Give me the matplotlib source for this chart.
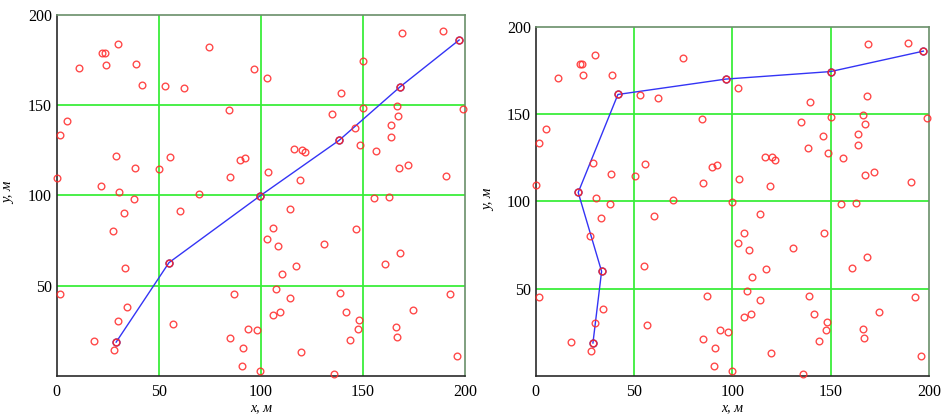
import matplotlib
matplotlib.use("Agg")
import matplotlib.pyplot as plt

# random scattered points (same set on both panels)
pts_x = [0.2, 1.5, 5.2, 1.5, 11.1, 18.1, 21.6, 22.4, 23.5, 24.2,
         30.2, 29.2, 30.7, 27.8, 33.0, 33.5, 34.4, 29.9, 27.9, 29.1,
         38.4, 37.9, 38.9, 41.8, 52.9, 62.4, 50.3, 55.5, 60.4, 69.7,
         56.8, 74.8, 84.6, 84.9, 87.0, 84.9, 91.3, 90.8, 93.9, 98.0,
         89.8, 92.1, 96.7, 103.0, 103.5, 99.6, 105.8, 103.0, 108.2, 110.2,
         107.4, 105.8, 109.6, 114.1, 114.1, 117.1, 116.4, 120.0, 121.8, 119.3,
         119.7, 99.8, 136.0, 130.9, 135.0, 139.4, 138.3, 146.0, 148.4, 138.8,
         141.7, 148.2, 147.4, 143.8, 146.6, 149.9, 150.0, 156.2, 155.4, 162.9,
         160.8, 163.9, 163.9, 166.5, 167.3, 168.2, 169.0, 167.5, 171.9, 168.2,
         166.4, 166.9, 174.7, 189.4, 197.1, 198.9, 190.7, 192.8, 196.1, 55.0]
pts_y = [109.4, 133.3, 141.4, 45.4, 170.6, 19.5, 105.1, 178.7, 178.7, 172.2,
         183.6, 121.7, 101.7, 80.3, 90.3, 59.9, 38.1, 30.5, 14.5, 18.9,
         115.4, 98.3, 172.6, 161.2, 160.7, 159.4, 114.5, 121.1, 91.4, 100.6,
         29.0, 182.0, 147.4, 110.3, 45.6, 21.0, 15.8, 5.5, 26.3, 25.4,
         119.5, 120.8, 170.0, 165.1, 112.9, 99.8, 82.0, 75.9, 72.1, 56.8,
         48.5, 33.8, 35.3, 43.4, 92.8, 61.0, 125.6, 125.4, 123.9, 108.8,
         13.2, 3.1, 1.3, 73.3, 145.2, 156.6, 130.5, 137.3, 127.9, 45.8,
         35.7, 30.9, 26.3, 20.0, 81.6, 174.3, 148.5, 124.8, 98.7, 99.3,
         62.1, 138.8, 132.4, 149.3, 144.1, 160.1, 189.9, 115.1, 116.7, 68.0,
         27.2, 21.7, 36.8, 190.8, 186.0, 147.8, 110.8, 45.4, 11.2, 62.9]

# route on the left panel
route1_x = [29.1, 55.0, 99.6, 138.3, 168.2, 197.1]
route1_y = [18.9, 62.9, 99.8, 130.5, 160.1, 186.0]

# route on the right panel
route2_x = [29.1, 33.5, 21.6, 41.8, 96.7, 149.9, 197.1]
route2_y = [18.9, 59.9, 105.1, 161.2, 170.0, 174.3, 186.0]

ticks_x = [0, 50, 100, 150, 200]
ticks_y = [50, 100, 150, 200]

plt.rcParams['font.family'] = ['Liberation Serif', 'DejaVu Serif']

fig = plt.figure(figsize=(9.41, 4.17), dpi=100)
ax1 = fig.add_axes([0.0603, 0.0976, 0.4339, 0.8672])
ax2 = fig.add_axes([0.5693, 0.0983, 0.4180, 0.8377])


def draw(ax, rx, ry, ylab_x, ylab_y, xlab_y):
    ax.set_xlim(0, 200)
    ax.set_ylim(0, 200)
    ax.set_xticks(ticks_x)
    ax.set_yticks(ticks_y)
    for v in [50, 100, 150]:
        ax.axvline(v, color='#3aee3a', lw=1.3, zorder=1)
        ax.axhline(v, color='#3aee3a', lw=1.3, zorder=1)
    ax.plot(rx, ry, color='#3434f5', lw=1.0, marker='o', ms=5.0,
            mfc='none', mec='#5a1a9a', mew=1.0, zorder=3)
    ax.plot(pts_x, pts_y, linestyle='none', marker='o', ms=4.8,
            mfc='none', mec='#ff2a2a', mew=1.0, alpha=0.85, zorder=4,
            clip_on=False)
    ax.tick_params(length=0, labelsize=11.5)
    ax.tick_params(axis='x', pad=5.5)
    ax.tick_params(axis='y', pad=3.5)
    ax.spines['left'].set_color('#2a2a2a')
    ax.spines['bottom'].set_color('#2a2a2a')
    ax.spines['top'].set_color('#6a8f6a')
    ax.spines['right'].set_color('#6a8f6a')
    for s in ax.spines.values():
        s.set_linewidth(1.2)
    ax.set_xlabel('x, м', fontsize=10, style='italic')
    ax.set_ylabel('y, м', fontsize=10.5, style='italic')
    ax.xaxis.set_label_coords(0.5, xlab_y)
    ax.yaxis.set_label_coords(ylab_x, ylab_y)


draw(ax1, route1_x, route1_y, -0.102, 0.507, -0.07)
draw(ax2, route2_x, route2_y, -0.103, 0.504, -0.073)

fig.savefig('out.png', dpi=100)
